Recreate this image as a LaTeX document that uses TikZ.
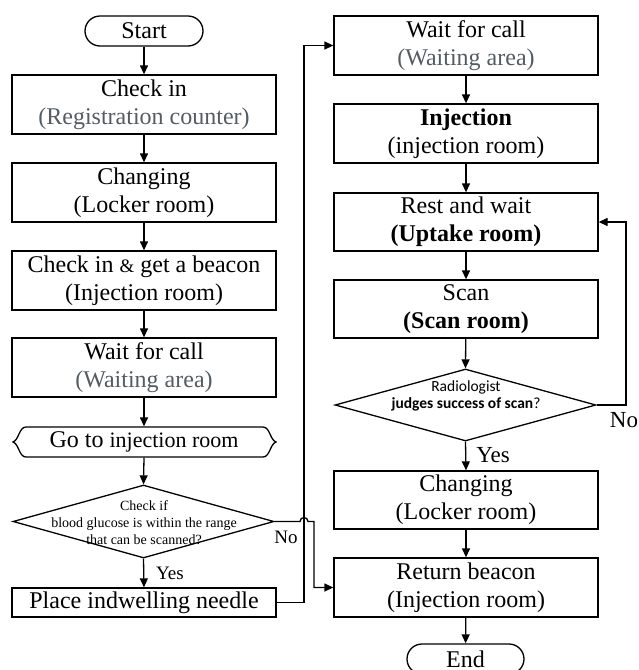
\documentclass[tikz,border=0pt]{standalone}
\usepackage{fontspec}
\setmainfont{Liberation Serif}
\newfontfamily\calib{Carlito}
\usetikzlibrary{arrows.meta,shapes.geometric}
\definecolor{roomgray}{RGB}{84,92,98}
\begin{document}
\begin{tikzpicture}[x=1pt, y=-1pt, line width=1.3pt,
  >={Triangle[length=9pt,width=8pt]},
  box/.style={draw, minimum width=264pt, minimum height=59pt, inner sep=0pt,
    align=center, font=\fontsize{24}{28}\selectfont},
  thinbox/.style={box, minimum height=29pt},
  term/.style={draw, rounded corners=15pt, minimum width=118pt, minimum height=30pt,
    inner sep=0pt, font=\fontsize{24}{28}\selectfont},
  decision/.style={draw, diamond, inner sep=0pt, minimum width=261pt, minimum height=73pt},
  dectext/.style={inner sep=0pt, align=center},
  link/.style={->},
  smalllbl/.style={inner sep=0pt, font=\fontsize{19}{22}\selectfont},
  biglbl/.style={inner sep=0pt, font=\fontsize{23}{26}\selectfont},
  room/.style={text=roomgray}]
\useasboundingbox (0,0) rectangle (638,670);

% left column
\node[term] (start) at (144,31) {Start};
\node[box] (checkin) at (144,104.5) {Check in\\ \textcolor{roomgray}{(Registration counter)}};
\node[box] (chg1) at (144,192.5) {Changing\\ (Locker room)};
\node[box] (beacon) at (144,280.5) {Check in {\fontsize{19}{22}\selectfont\&} get a beacon\\ (Injection room)};
\node[box] (wait1) at (144,367.5) {Wait for call\\ \textcolor{roomgray}{(Waiting area)}};
\node[inner sep=0pt, minimum width=263pt, minimum height=30pt] (goto) at (144,442)
  {\fontsize{24}{28}\selectfont Go to \fontsize{22}{26}\selectfont injection room};
\node[decision] (dec1) at (143.5,521.5) {};
\node[dectext, font=\fontsize{14}{17}\selectfont] (dec1txt) at (144,523)
  {Check if\\ blood glucose is within the range\\ that can be scanned?};
\node[thinbox] (needle) at (144,602.5) {Place indwelling needle};

% brace-ended shape of the "go to" step
\draw (26,427) -- (263,427)
  .. controls (270,427) and (270,440) .. (276,442)
  .. controls (270,444) and (270,457) .. (263,457)
  -- (26,457)
  .. controls (19,457) and (19,444) .. (13,442)
  .. controls (19,440) and (19,427) .. (26,427) -- cycle;

% right column
\node[box] (wait2) at (466,45.5) {Wait for call\\ \textcolor{roomgray}{(Waiting area)}};
\node[box] (inj) at (466,133.5) {\textbf{Injection}\\ (injection room)};
\node[box, minimum height=58pt] (rest) at (466,222) {Rest and wait\\ \textbf{(Uptake room)}};
\node[box, minimum height=58pt] (scan) at (466,309) {Scan\\ \textbf{(Scan room)}};
\node[decision, minimum height=72pt] (dec2) at (465.5,405) {};
\node[dectext, font=\calib\fontsize{15.5}{17}\selectfont] (dec2txt) at (466,395.5)
  {Radiologist\\ \textbf{judges success of scan}?};
\node[box, minimum height=58pt] (chg2) at (466,500) {Changing\\ (Locker room)};
\node[box] (ret) at (466,587.5) {Return beacon\\ (Injection room)};
\node[term, minimum width=117pt] (end) at (465.5,659) {End};

% rails for the long connectors
\coordinate (rail) at (304,0);
\coordinate (drop) at (314,0);
\coordinate (loop) at (626,0);

% left column flow
\draw[link] (start) -- (checkin);
\draw[link] (checkin) -- (chg1);
\draw[link] (chg1) -- (beacon);
\draw[link] (beacon) -- (wait1);
\draw[link] (wait1) -- (goto.north);
\draw[link] (goto.south) -- (dec1.north);
\draw[link] (dec1.south) -- (needle.north);

% needle placed -> waiting area
\draw[link] (needle.east) -- (needle.east -| rail) -- (rail |- wait2.west) -- (wait2.west);

% glucose out of range -> return beacon, hopping over the rail
\draw[link] (dec1.east) -- ([xshift=-4pt]dec1.east -| rail)
  arc[start angle=180, end angle=0, radius=4pt]
  -- (dec1.east -| drop) -- (drop |- ret.west) -- (ret.west);

% right column flow
\draw[link] (wait2) -- (inj);
\draw[link] (inj) -- (rest);
\draw[link] (rest) -- (scan);
\draw[link] (scan) -- (dec2.north);
\draw[link] (dec2.south) -- (chg2.north);
\draw[link] (chg2) -- (ret);
\draw[link] (ret) -- (end);

% failed scan -> back to uptake room
\draw[link] (dec2.east) -- (dec2.east -| loop) -- (loop |- rest.east) -- (rest.east);

% branch labels
\node[smalllbl] (no1) at (286,537) {No};
\node[smalllbl] (yes1) at (170,573) {Yes};
\node[biglbl] (yes2) at (493,455) {Yes};
\node[biglbl] (no2) at (624,420) {No};
\end{tikzpicture}
\end{document}
